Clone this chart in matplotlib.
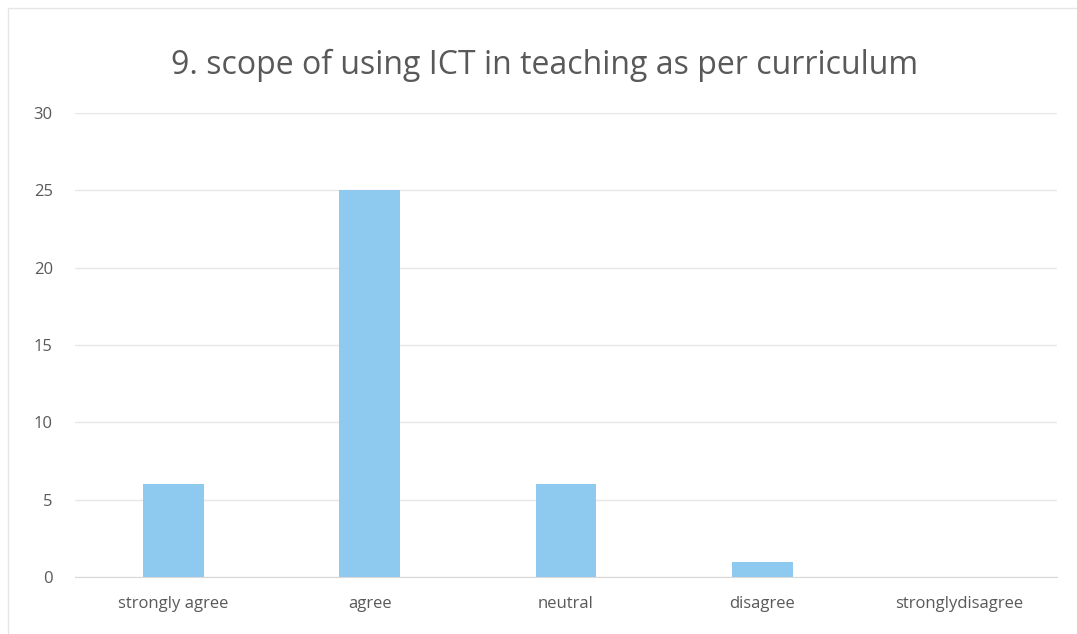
import matplotlib
matplotlib.use("Agg")
import matplotlib.pyplot as plt
from matplotlib.patches import Rectangle

categories = ["strongly agree", "agree", "neutral", "disagree", "stronglydisagree"]
counts = [6, 25, 6, 1, 0]
yticks = [0, 5, 10, 15, 20, 25, 30]

title = "9. scope of using ICT in teaching as per curriculum"
bar_color = "#8ec9ef"
text_grey = "#595959"
grid_grey = "#e6e6e6"

plt.rcParams["font.family"] = ["Open Sans", "DejaVu Sans"]

fig = plt.figure(figsize=(10.77, 6.34), dpi=100)
ax = fig.add_axes([75 / 1077, 1 - 577 / 634, 982 / 1077, (577 - 113) / 634])

x = range(len(categories))
ax.bar(x, counts, width=0.31, color=bar_color, zorder=2)

ax.set_xlim(-0.5, len(categories) - 0.5)
ax.set_ylim(0, 30)
ax.set_yticks(yticks)
ax.set_xticks(list(x))
ax.set_xticklabels(categories)
ax.tick_params(axis="both", length=0, labelsize=12, labelcolor=text_grey)
ax.tick_params(axis="y", pad=16)
ax.tick_params(axis="x", pad=14)

ax.grid(axis="y", color=grid_grey, linewidth=1, zorder=0)
for side in ("top", "right", "left"):
    ax.spines[side].set_visible(False)
ax.spines["bottom"].set_color("#d9d9d9")

fig.text(545 / 1077, 1 - 65 / 634, title, ha="center", va="center",
         fontsize=23, color=text_grey)

# thin frame round the chart area
fig.patches.append(Rectangle((8 / 1077, -0.02), 1.1, 1 - 8 / 634 + 0.02,
                             transform=fig.transFigure, fill=False,
                             edgecolor="#e6e6e6", linewidth=1))

fig.savefig("out.png", dpi=100)
